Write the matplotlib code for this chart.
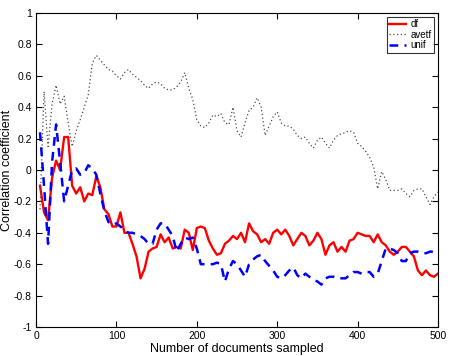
import numpy as np
import matplotlib
matplotlib.use("Agg")
import matplotlib.pyplot as plt

x = list(range(5, 501, 5))

df = [-0.10, -0.27, -0.32, -0.05, 0.06, 0.00, 0.21, 0.21, -0.10, -0.15,
      -0.11, -0.20, -0.15, -0.16, -0.04, -0.11, -0.25, -0.28, -0.36, -0.36,
      -0.27, -0.40, -0.40, -0.47, -0.55, -0.69, -0.63, -0.52, -0.50, -0.49,
      -0.41, -0.46, -0.43, -0.50, -0.49, -0.50, -0.38, -0.40, -0.51, -0.37,
      -0.36, -0.37, -0.45, -0.50, -0.54, -0.53, -0.47, -0.45, -0.42, -0.44,
      -0.40, -0.46, -0.34, -0.39, -0.41, -0.46, -0.44, -0.47, -0.40, -0.38,
      -0.41, -0.38, -0.42, -0.48, -0.44, -0.40, -0.42, -0.48, -0.45, -0.40,
      -0.44, -0.54, -0.48, -0.46, -0.52, -0.49, -0.52, -0.45, -0.44, -0.40,
      -0.41, -0.42, -0.42, -0.46, -0.41, -0.46, -0.48, -0.52, -0.54, -0.52,
      -0.49, -0.49, -0.52, -0.55, -0.64, -0.67, -0.64, -0.67, -0.68, -0.66]

avetf = [-0.25, 0.50, 0.15, 0.42, 0.54, 0.42, 0.47, 0.30, 0.15, 0.25,
         0.32, 0.40, 0.48, 0.68, 0.73, 0.70, 0.67, 0.64, 0.63, 0.60,
         0.58, 0.62, 0.64, 0.61, 0.59, 0.57, 0.54, 0.52, 0.55, 0.56,
         0.55, 0.52, 0.51, 0.51, 0.53, 0.56, 0.62, 0.52, 0.45, 0.32,
         0.28, 0.27, 0.30, 0.35, 0.34, 0.36, 0.30, 0.29, 0.40, 0.25,
         0.21, 0.30, 0.38, 0.40, 0.46, 0.40, 0.22, 0.28, 0.34, 0.37,
         0.30, 0.28, 0.28, 0.26, 0.22, 0.20, 0.21, 0.17, 0.14, 0.19,
         0.21, 0.17, 0.14, 0.19, 0.22, 0.23, 0.24, 0.25, 0.24, 0.17,
         0.15, 0.12, 0.08, 0.02, -0.12, -0.01, -0.06, -0.13, -0.13, -0.13,
         -0.12, -0.15, -0.17, -0.13, -0.12, -0.12, -0.17, -0.22, -0.17, -0.14]

unif = [0.24, -0.10, -0.47, 0.05, 0.29, 0.05, -0.20, -0.10, 0.00, 0.01,
        -0.03, -0.02, 0.03, 0.01, -0.03, -0.15, -0.26, -0.33, -0.35, -0.34,
        -0.36, -0.38, -0.40, -0.40, -0.41, -0.42, -0.44, -0.47, -0.47, -0.38,
        -0.34, -0.34, -0.38, -0.42, -0.52, -0.47, -0.43, -0.44, -0.43, -0.50,
        -0.60, -0.60, -0.60, -0.60, -0.59, -0.60, -0.71, -0.63, -0.58, -0.60,
        -0.64, -0.68, -0.60, -0.57, -0.55, -0.54, -0.58, -0.61, -0.64, -0.68,
        -0.69, -0.67, -0.64, -0.62, -0.67, -0.69, -0.66, -0.68, -0.70, -0.71,
        -0.73, -0.69, -0.68, -0.68, -0.69, -0.69, -0.69, -0.67, -0.65, -0.65,
        -0.66, -0.65, -0.65, -0.68, -0.66, -0.58, -0.50, -0.50, -0.51, -0.53,
        -0.58, -0.58, -0.53, -0.52, -0.52, -0.53, -0.53, -0.52, -0.52, -0.52]

xticks = [0, 100, 200, 300, 400, 500]
yticks = [-1, -0.8, -0.6, -0.4, -0.2, 0, 0.2, 0.4, 0.6, 0.8, 1]
ytick_labels = ["-1", "-0.8", "-0.6", "-0.4", "-0.2", "0", "0.2", "0.4", "0.6", "0.8", "1"]

plt.rcParams['font.family'] = ['Liberation Sans', 'DejaVu Sans']

fig = plt.figure(figsize=(4.5, 3.56), dpi=100)
ax = fig.add_axes([36/450, 1-327/356, (438-36)/450, (327-13)/356])

ax.plot(x, df, color=(1, 0, 0), lw=1.7, label='df')
ax.plot(x, avetf, color='0.3', lw=0.9, linestyle=(0, (1, 2)), label='avetf')
ax.plot(x, unif, color=(0, 0, 1), lw=1.8, linestyle=(0, (3.5, 2.5)), label='unif')

ax.set_xlim(0, 500)
ax.set_ylim(-1, 1)
ax.set_xticks(xticks)
ax.set_yticks(yticks)
ax.set_yticklabels(ytick_labels)
ax.tick_params(direction='in', length=4, width=0.8, labelsize=7.5, top=True, right=True, pad=3)
for s in ax.spines.values():
    s.set_linewidth(0.8)

ax.set_xlabel('Number of documents sampled', fontsize=9, labelpad=1)
ax.set_ylabel('Correlation coefficient', fontsize=9)
ax.yaxis.set_label_coords(-0.058, 0.5)

leg = ax.legend(loc='upper right', fontsize=7, frameon=True, fancybox=False,
                edgecolor='black', handlelength=1.7, handletextpad=0.5,
                borderpad=0.25, labelspacing=0.05, borderaxespad=0.4)
leg.get_frame().set_linewidth(0.8)

fig.savefig('out.png', dpi=100)
